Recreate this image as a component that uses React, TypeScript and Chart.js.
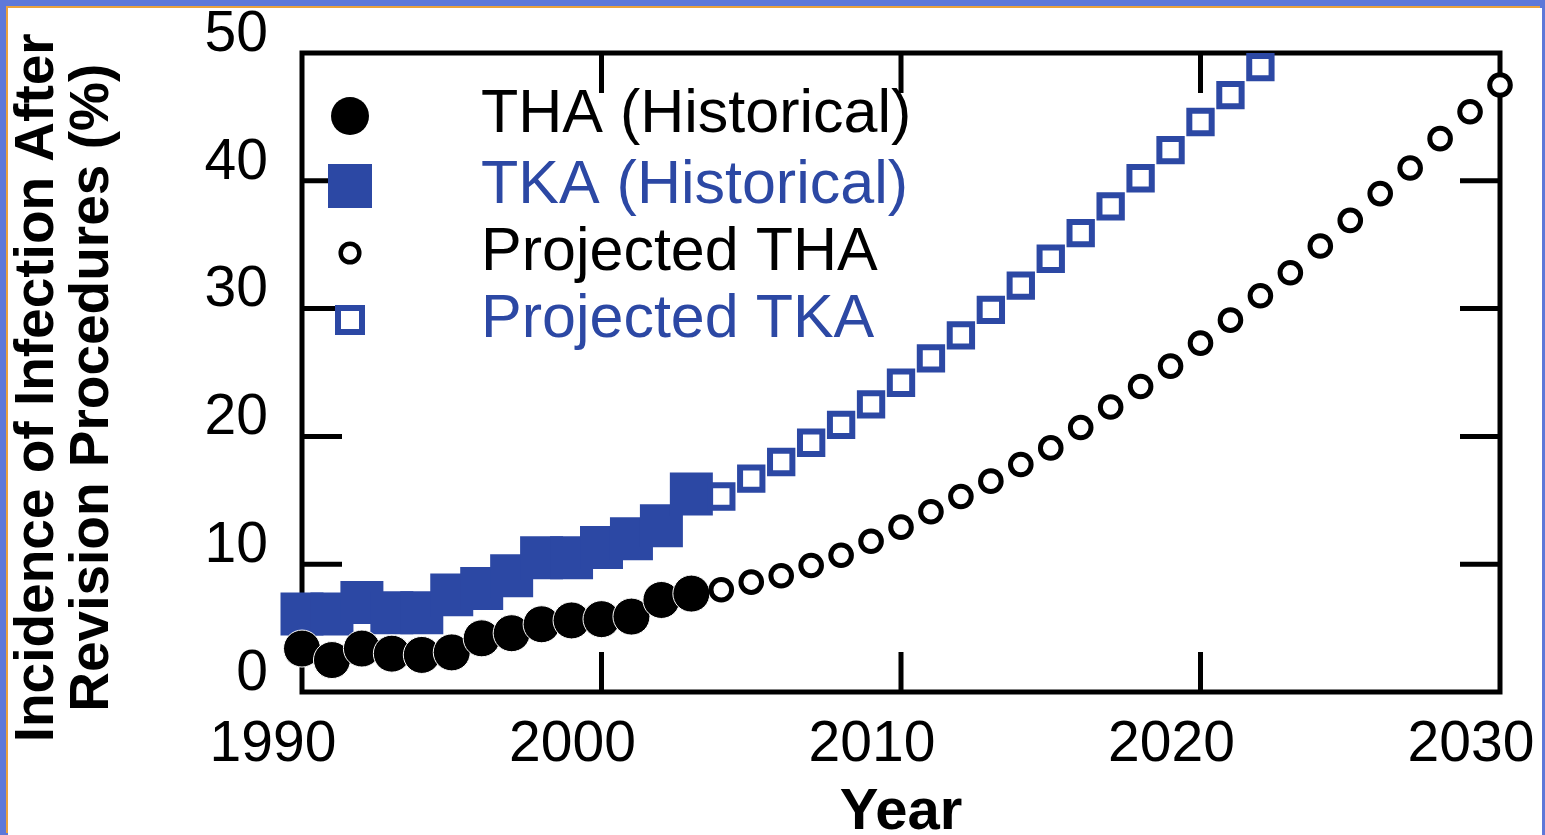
import React, { useEffect, useRef } from 'react';
import { Chart, registerables } from 'chart.js';

Chart.register(...registerables);

// ---------- data ----------
const histYears = [1990, 1991, 1992, 1993, 1994, 1995, 1996, 1997, 1998, 1999, 2000, 2001, 2002, 2003];
const thaHistValues = [3.4, 2.5, 3.4, 3.0, 2.9, 3.1, 4.2, 4.6, 5.3, 5.6, 5.7, 5.9, 7.2, 7.7];
const tkaHistValues = [6.1, 6.1, 7.0, 6.2, 6.2, 7.6, 8.1, 9.1, 10.5, 10.5, 11.3, 12.0, 13.0, 15.5];

const projThaYears = [2004, 2005, 2006, 2007, 2008, 2009, 2010, 2011, 2012, 2013, 2014, 2015, 2016, 2017, 2018, 2019, 2020, 2021, 2022, 2023, 2024, 2025, 2026, 2027, 2028, 2029, 2030];
const projThaValues = [8.0, 8.6, 9.1, 9.9, 10.7, 11.8, 12.9, 14.1, 15.3, 16.5, 17.8, 19.1, 20.7, 22.3, 23.9, 25.5, 27.3, 29.1, 31.0, 32.8, 34.9, 36.9, 39.0, 41.0, 43.3, 45.4, 47.5];

const projTkaYears = [2004, 2005, 2006, 2007, 2008, 2009, 2010, 2011, 2012, 2013, 2014, 2015, 2016, 2017, 2018, 2019, 2020, 2021, 2022];
const projTkaValues = [15.3, 16.7, 18.0, 19.5, 20.9, 22.5, 24.2, 26.1, 27.9, 29.9, 31.8, 33.9, 35.9, 38.0, 40.2, 42.4, 44.6, 46.7, 48.9];

const xTickLabels = [1990, 2000, 2010, 2020, 2030];
const yTickLabels = [0, 10, 20, 30, 40, 50];
const innerXTicks = [2000, 2010, 2020];
const innerYTicks = [10, 20, 30, 40];

const legendLabels = ['THA (Historical)', 'TKA (Historical)', 'Projected THA', 'Projected TKA'];
const yTitleLines = ['Incidence of Infection After', 'Revision Procedures (%)'];

const BLUE = '#2c48a4';
const FONT = "'Liberation Sans', Arial, Helvetica, sans-serif";

const toPoints = (xs: number[], ys: number[]) => xs.map((x, i) => ({ x, y: ys[i] }));

// ---------- plugins ----------
const framePlugin = {
  id: 'frame',
  beforeDatasetsDraw(chart: any) {
    const { ctx, chartArea, scales } = chart;
    const { left, right, top, bottom } = chartArea;
    const len = 40;
    ctx.save();
    ctx.strokeStyle = '#000';
    ctx.lineWidth = 5;
    ctx.lineCap = 'butt';
    ctx.strokeRect(left, top, right - left, bottom - top);
    ctx.beginPath();
    innerXTicks.forEach((v) => {
      const px = scales.x.getPixelForValue(v);
      ctx.moveTo(px, bottom);
      ctx.lineTo(px, bottom - len);
      ctx.moveTo(px, top);
      ctx.lineTo(px, top + len);
    });
    innerYTicks.forEach((v) => {
      const py = scales.y.getPixelForValue(v);
      ctx.moveTo(left, py);
      ctx.lineTo(left + len, py);
      ctx.moveTo(right, py);
      ctx.lineTo(right - len, py);
    });
    ctx.stroke();
    ctx.restore();
  },
};

const legendPlugin = {
  id: 'customLegend',
  afterDatasetsDraw(chart: any) {
    const { ctx } = chart;
    const mx = 342;
    const tx = 473;
    const rows = [107, 178, 245, 312];
    ctx.save();
    // filled circle
    ctx.fillStyle = '#000';
    ctx.beginPath();
    ctx.arc(mx, rows[0] + 1, 19, 0, Math.PI * 2);
    ctx.fill();
    // filled square
    ctx.fillStyle = BLUE;
    ctx.fillRect(mx - 22, rows[1] - 22, 44, 44);
    // hollow circle
    ctx.strokeStyle = '#000';
    ctx.lineWidth = 4.5;
    ctx.fillStyle = '#fff';
    ctx.beginPath();
    ctx.arc(mx, rows[2], 9.3, 0, Math.PI * 2);
    ctx.fill();
    ctx.stroke();
    // hollow square
    ctx.strokeStyle = BLUE;
    ctx.lineWidth = 6;
    ctx.strokeRect(mx - 12, rows[3] - 12, 24, 24);
    // texts
    ctx.font = `61px ${FONT}`;
    ctx.textAlign = 'left';
    ctx.textBaseline = 'middle';
    const colors = ['#000', BLUE, '#000', BLUE];
    legendLabels.forEach((t, i) => {
      ctx.fillStyle = colors[i];
      ctx.fillText(t, tx, rows[i]);
    });
    ctx.restore();
  },
};

export default function App() {
  const ref = useRef<HTMLCanvasElement>(null);

  useEffect(() => {
    if (!ref.current) return;
    const chart = new Chart(ref.current, {
      type: 'scatter',
      data: {
        datasets: [
          {
            label: legendLabels[2],
            data: toPoints(projThaYears, projThaValues),
            pointStyle: 'circle',
            pointRadius: 10.3,
            pointBackgroundColor: '#fff',
            pointBorderColor: '#000',
            pointBorderWidth: 5,
            showLine: false,
            clip: false,
            order: 1,
          },
          {
            label: legendLabels[3],
            data: toPoints(projTkaYears, projTkaValues),
            pointStyle: 'rect',
            pointRadius: 15.8,
            pointBackgroundColor: '#fff',
            pointBorderColor: BLUE,
            pointBorderWidth: 6,
            showLine: false,
            clip: false,
            order: 2,
          },
          {
            label: legendLabels[0],
            data: toPoints(histYears, thaHistValues),
            pointStyle: 'circle',
            pointRadius: 18.5,
            pointBackgroundColor: '#000',
            pointBorderColor: '#fff',
            pointBorderWidth: 1,
            showLine: false,
            clip: false,
            order: 3,
          },
          {
            label: legendLabels[1],
            data: toPoints(histYears, tkaHistValues),
            pointStyle: 'rect',
            pointRadius: 30.4,
            pointBackgroundColor: BLUE,
            pointBorderColor: BLUE,
            pointBorderWidth: 0,
            showLine: false,
            clip: false,
            order: 4,
          },
        ] as any,
      },
      options: {
        animation: false,
        responsive: false,
        events: [],
        layout: { padding: { left: 0, top: 45, right: 42, bottom: 0 } },
        plugins: {
          legend: { display: false },
          tooltip: { enabled: false },
        },
        scales: {
          x: {
            type: 'linear',
            min: 1990,
            max: 2030,
            grid: { display: false, drawTicks: false },
            border: { display: false },
            afterBuildTicks: (s: any) => {
              s.ticks = xTickLabels.map((v) => ({ value: v }));
            },
            afterFit: (s: any) => {
              s.height = 143;
              s.paddingLeft = 0;
              s.paddingRight = 0;
            },
            ticks: {
              autoSkip: false,
              maxRotation: 0,
              padding: 19,
              labelOffset: -29,
              color: '#000',
              font: { family: FONT, size: 57 },
              callback: (v: any) => String(v),
            },
            title: {
              display: true,
              text: 'Year',
              color: '#000',
              padding: 0,
              font: { family: FONT, size: 58, weight: 'bold', lineHeight: 0.75 },
            },
          },
          y: {
            type: 'linear',
            min: 0,
            max: 50,
            grid: { display: false, drawTicks: false },
            border: { display: false },
            afterBuildTicks: (s: any) => {
              s.ticks = yTickLabels.map((v) => ({ value: v }));
            },
            afterFit: (s: any) => {
              s.width = 294;
              s.paddingTop = 0;
              s.paddingBottom = 0;
            },
            ticks: {
              autoSkip: false,
              padding: 34,
              labelOffset: -18,
              color: '#000',
              font: { family: FONT, size: 57 },
              callback: (v: any) => String(v),
            },
            title: {
              display: true,
              // two trailing spaces nudge the centred rotated lines slightly downward, as in the reference
              text: yTitleLines.map((t) => t + '  '),
              color: '#000',
              padding: { top: 2, bottom: 0 },
              font: { family: FONT, size: 55, weight: 'bold', lineHeight: 1.0 },
            },
          },
        },
      } as any,
      plugins: [framePlugin, legendPlugin],
    });
    return () => chart.destroy();
  }, []);

  return (
    <div
      style={{
        position: 'fixed',
        left: 0,
        top: 0,
        width: 1545,
        height: 835,
        background: '#5e78d8',
        overflow: 'hidden',
      }}
    >
      <div
        style={{
          position: 'absolute',
          left: 8,
          top: 8,
          width: 1534,
          height: 827,
          background: '#fff',
          boxShadow: '-2px -2px 0 0 #eba23c',
        }}
      >
        <canvas ref={ref} width={1534} height={827} style={{ display: 'block', width: 1534, height: 827 }} />
      </div>
    </div>
  );
}
